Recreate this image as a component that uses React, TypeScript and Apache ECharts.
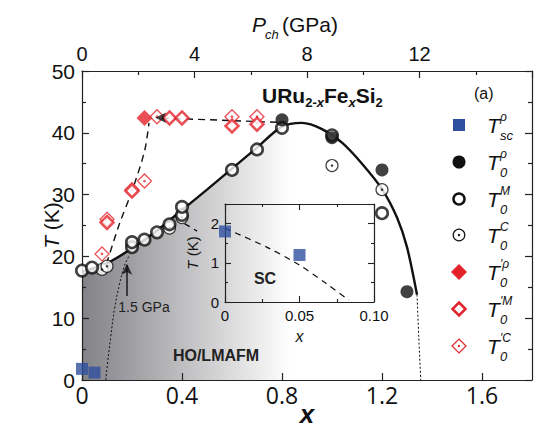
import React, { useEffect, useRef } from "react";
import * as echarts from "echarts";

// ---- data ----
const scX = [0, 0.05];
const scT = [1.8, 1.2];

const t0RhoX = [0.8, 1.0, 1.2, 1.3];
const t0RhoT = [42.1, 39.2, 34.0, 14.3];

const t0MX = [0, 0.04, 0.2, 0.2, 0.25, 0.3, 0.35, 0.4, 0.4, 0.6, 0.7, 0.8, 1.0, 1.2];
const t0MT = [17.7, 18.2, 21.5, 22.3, 22.7, 23.9, 25.2, 26.7, 28.0, 34.0, 37.3, 40.8, 39.6, 27.0];

const t0CX = [0.08, 0.1, 0.35, 0.4, 1.0, 1.2];
const t0CT = [17.9, 18.4, 24.6, 26.3, 34.7, 30.8];

const t0pRhoX = [0.25];
const t0pRhoT = [42.4];

const t0pMX = [0.1, 0.2, 0.35, 0.4, 0.6, 0.7];
const t0pMT = [25.5, 30.6, 42.4, 42.4, 41.1, 41.4];

const t0pCX = [0.08, 0.1, 0.2, 0.25, 0.3, 0.6, 0.7];
const t0pCT = [20.4, 26.0, 30.8, 32.2, 42.6, 42.6, 42.6];

// solid T0 phase line
const curveX = [0, 0.1, 0.2, 0.3, 0.4, 0.5, 0.6, 0.7, 0.8, 0.88, 0.96, 1.04, 1.12, 1.2, 1.26, 1.3, 1.34];
const curveT = [17.5, 18.9, 21.3, 24.2, 27.5, 30.8, 34.2, 37.6, 41.0, 41.6, 40.6, 38.4, 35.0, 30.9, 26.3, 21.5, 13.8];
// shaded HO/LMAFM area (left part of curve)
const areaCount = 10;

// dashed T0' line (ramp)
const rampX = [0.098, 0.15, 0.2, 0.25, 0.268];
const rampT = [18.8, 25.3, 30.6, 37.0, 41.6];
// dashed T0' plateau ending in an arrow head
const plateauX = [0.78, 0.3];
const plateauT = [41.7, 42.42];
const plateauHeadX = [0.293];
const plateauHeadT = [42.43];

// dotted boundaries
const dotLeftX = [0.095, 0.103, 0.115, 0.13, 0.15, 0.17, 0.19];
const dotLeftT = [0, 3, 7, 11.5, 15.5, 18.5, 20.2];
const dotRightX = [1.34, 1.347, 1.355];
const dotRightT = [13.8, 7, 0];

// short dashed segment near inset
const shortDashX = [0.41, 0.46];
const shortDashT = [25.3, 24.1];

// 1.5 GPa arrow
const gpaArrowX = [0.18, 0.18];
const gpaArrowT = [13.6, 18.6];
const gpaHeadX = [0.18];
const gpaHeadT = [18.8];

// inset SC line
const scLineX = [0, 0.028, 0.05, 0.068, 0.083];
const scLineT = [1.88, 1.4, 0.94, 0.47, 0.05];

const zip = (xs: number[], ys: number[]) => xs.map((x, i) => [x, ys[i]]);

const BLUE = "#2f4f9f";
const RED = "#e3232b";
const BLACK = "#111";
const AX = "#222";

const axisCommon = (extra: any = {}) => ({
  type: "value",
  axisLine: { show: true, onZero: false, lineStyle: { color: AX, width: 1.2 } },
  axisTick: { show: true, inside: true, length: 7, lineStyle: { color: AX, width: 1.2 } },
  splitLine: { show: false },
  ...extra,
});

export default function App() {
  const ref = useRef<HTMLDivElement>(null);
  useEffect(() => {
    if (!ref.current) return;
    const chart = echarts.init(ref.current, null, { renderer: "svg" });

    const openCircle = (w: number) => ({ color: "#fff", borderColor: BLACK, borderWidth: w });
    const openDiamond = (w: number) => ({ color: "#fff", borderColor: RED, borderWidth: w });

    const legendY = [125, 162, 199, 235, 272, 309, 346];
    const legendMX = 459;
    const legendSup = ["\u03c1", "\u03c1", "M", "C", "'\u03c1", "'M", "'C"];
    const legendSub = ["sc", "0", "0", "0", "0", "0", "0"];
    const diamondPts = (cx: number, cy: number, r: number) => [
      [cx, cy - r], [cx + r, cy], [cx, cy + r], [cx - r, cy],
    ];
    const markers: any[] = [
      { type: "rect", shape: { x: legendMX - 6, y: legendY[0] - 6, width: 12, height: 12 }, style: { fill: BLUE } },
      { type: "circle", shape: { cx: legendMX, cy: legendY[1], r: 6.5 }, style: { fill: BLACK } },
      { type: "circle", shape: { cx: legendMX, cy: legendY[2], r: 5.5 }, style: { fill: "#fff", stroke: BLACK, lineWidth: 2.5 } },
      { type: "circle", shape: { cx: legendMX, cy: legendY[3], r: 5.8 }, style: { fill: "#fff", stroke: BLACK, lineWidth: 1.2 } },
      { type: "circle", shape: { cx: legendMX, cy: legendY[3], r: 1.2 }, style: { fill: BLACK } },
      { type: "polygon", shape: { points: diamondPts(legendMX, legendY[4], 8) }, style: { fill: RED } },
      { type: "polygon", shape: { points: diamondPts(legendMX, legendY[5], 6.5) }, style: { fill: "#fff", stroke: RED, lineWidth: 2.5 } },
      { type: "polygon", shape: { points: diamondPts(legendMX, legendY[6], 7) }, style: { fill: "#fff", stroke: RED, lineWidth: 1.2 } },
      { type: "circle", shape: { cx: legendMX, cy: legendY[6], r: 1.2 }, style: { fill: RED } },
    ];
    const legendTexts: any[] = [];
    legendY.forEach((y, i) => {
      legendTexts.push({
        type: "text", x: 487, y,
        style: { text: "T", font: "italic 21px 'Liberation Sans'", fill: BLACK, verticalAlign: "middle", align: "left" },
      });
      legendTexts.push({
        type: "text", x: 500, y: y - 8,
        style: { text: legendSup[i], font: "italic 12px 'Liberation Sans'", fill: BLACK, verticalAlign: "middle", align: "left" },
      });
      legendTexts.push({
        type: "text", x: 500, y: y + 10,
        style: { text: legendSub[i], font: "italic 13px 'Liberation Sans'", fill: BLACK, verticalAlign: "middle", align: "left" },
      });
    });

    const option: any = {
      animation: false,
      backgroundColor: "#fff",
      grid: [
        { left: 82, top: 71, right: 3, bottom: 49, containLabel: false, outerBoundsMode: "none" },
        { left: 225, top: 204, width: 149, height: 98, containLabel: false, outerBoundsMode: "none" },
      ],
      xAxis: [
        axisCommon({
          gridIndex: 0, position: "bottom", min: 0, max: 1.8, interval: 0.4,
          axisLabel: { showMaxLabel: false, fontFamily: "Open Sans", fontSize: 23, color: BLACK, margin: 3 },
          name: "x", nameLocation: "middle", nameGap: 21, nameMoveOverlap: false,
          nameTextStyle: { fontFamily: "Liberation Sans", fontStyle: "italic", fontWeight: "bold", fontSize: 26, lineHeight: 26, color: BLACK },
        }),
        axisCommon({
          gridIndex: 0, position: "top", min: 0, max: 16, interval: 4,
          minorTick: { show: true, splitNumber: 2, length: 4, lineStyle: { color: AX, width: 1.2 } },
          axisLabel: { showMaxLabel: false, fontFamily: "Liberation Sans", fontSize: 20, color: BLACK, margin: 7 },
        }),
        axisCommon({
          gridIndex: 1, position: "bottom", min: 0, max: 0.1, interval: 0.05,
          axisTick: { show: true, inside: true, length: 6, lineStyle: { color: AX, width: 1.1 } },
          minorTick: { show: true, splitNumber: 2, length: 3, lineStyle: { color: AX, width: 1.1 } },
          axisLabel: {
            fontFamily: "Liberation Sans", fontSize: 15, color: BLACK, margin: 6,
            formatter: (v: number) => (v === 0 ? "0" : v.toFixed(2)),
          },
          name: "x", nameLocation: "middle", nameGap: 26, nameMoveOverlap: false,
          nameTextStyle: { fontFamily: "Liberation Sans", fontStyle: "italic", fontSize: 16, color: BLACK },
        }),
        axisCommon({
          gridIndex: 1, position: "top", min: 0, max: 0.1, interval: 0.05,
          axisTick: { show: true, inside: true, length: 6, lineStyle: { color: AX, width: 1.1 } },
          minorTick: { show: true, splitNumber: 2, length: 3, lineStyle: { color: AX, width: 1.1 } },
          axisLabel: { show: false },
        }),
      ],
      yAxis: [
        axisCommon({
          gridIndex: 0, position: "left", min: 0, max: 50, interval: 10,
          minorTick: { show: true, splitNumber: 2, length: 4, lineStyle: { color: AX, width: 1.2 } },
          axisLabel: { fontFamily: "Liberation Sans", fontSize: 21, color: BLACK, margin: 7 },
          name: "{i|T} (K)", nameLocation: "middle", nameGap: 20, nameRotate: 90, nameMoveOverlap: false,
          nameTextStyle: {
            fontFamily: "Liberation Sans", fontSize: 21, color: BLACK,
            rich: { i: { fontFamily: "Liberation Sans", fontStyle: "italic", fontSize: 21, color: BLACK } },
          },
        }),
        axisCommon({
          gridIndex: 0, position: "right", min: 0, max: 50, interval: 10,
          minorTick: { show: true, splitNumber: 2, length: 4, lineStyle: { color: AX, width: 1.2 } },
          axisLabel: { show: false },
        }),
        axisCommon({
          gridIndex: 1, position: "left", min: 0, max: 2.5, interval: 1,
          axisTick: { show: true, inside: true, length: 6, lineStyle: { color: AX, width: 1.1 } },
          minorTick: { show: true, splitNumber: 2, length: 3, lineStyle: { color: AX, width: 1.1 } },
          axisLabel: { showMaxLabel: false, fontFamily: "Liberation Sans", fontSize: 15, color: BLACK, margin: 6 },
          name: "{i|T} (K)", nameLocation: "middle", nameGap: 25, nameRotate: 90, nameMoveOverlap: false,
          nameTextStyle: {
            fontFamily: "Liberation Sans", fontSize: 15, color: BLACK,
            rich: { i: { fontFamily: "Liberation Sans", fontStyle: "italic", fontSize: 15, color: BLACK } },
          },
        }),
        axisCommon({
          gridIndex: 1, position: "right", min: 0, max: 2.5, interval: 1,
          axisTick: { show: true, inside: true, length: 6, lineStyle: { color: AX, width: 1.1 } },
          minorTick: { show: true, splitNumber: 2, length: 3, lineStyle: { color: AX, width: 1.1 } },
          axisLabel: { show: false },
        }),
      ],
      series: [
        {
          type: "line", xAxisIndex: 0, yAxisIndex: 0, z: 0,
          data: zip(curveX.slice(0, areaCount), curveT.slice(0, areaCount)),
          smooth: 0.3, symbol: "none", lineStyle: { width: 0 },
          areaStyle: {
            opacity: 1,
            color: new echarts.graphic.LinearGradient(0, 0, 1, 0, [
              { offset: 0, color: "#828287" },
              { offset: 0.5, color: "#c4c4c6" },
              { offset: 0.95, color: "#ffffff" },
            ]),
          },
          silent: true,
        },
        {
          type: "line", xAxisIndex: 0, yAxisIndex: 0, z: 2,
          data: zip(curveX, curveT), smooth: 0.3, symbol: "none",
          lineStyle: { color: BLACK, width: 2.4 },
        },
        {
          type: "line", xAxisIndex: 0, yAxisIndex: 0, z: 2,
          data: zip(dotLeftX, dotLeftT), smooth: 0.4, symbol: "none",
          lineStyle: { color: BLACK, width: 1, type: [2, 2] },
        },
        {
          type: "line", xAxisIndex: 0, yAxisIndex: 0, z: 2,
          data: zip(dotRightX, dotRightT), smooth: 0.3, symbol: "none",
          lineStyle: { color: BLACK, width: 1, type: [2, 2] },
        },
        {
          type: "line", xAxisIndex: 0, yAxisIndex: 0, z: 2,
          data: zip(shortDashX, shortDashT), symbol: "none",
          lineStyle: { color: BLACK, width: 1.4, type: [6, 5] },
        },
        {
          type: "line", xAxisIndex: 0, yAxisIndex: 0, z: 2,
          data: zip(rampX, rampT), smooth: 0.3, symbol: "none",
          lineStyle: { color: BLACK, width: 1.4, type: [7, 5] },
        },
        {
          type: "line", xAxisIndex: 0, yAxisIndex: 0, z: 2,
          data: zip(plateauX, plateauT), symbol: "none",
          lineStyle: { color: BLACK, width: 1.4, type: [7, 5] },
        },
        {
          type: "scatter", xAxisIndex: 0, yAxisIndex: 0, z: 6,
          data: zip(plateauHeadX, plateauHeadT), symbol: "arrow", symbolSize: [8, 11], symbolRotate: 90,
          itemStyle: { color: BLACK }, silent: true,
        },
        {
          type: "line", xAxisIndex: 0, yAxisIndex: 0, z: 2,
          data: zip(gpaArrowX, gpaArrowT), symbol: "none",
          lineStyle: { color: BLACK, width: 1.4 },
        },
        {
          type: "scatter", xAxisIndex: 0, yAxisIndex: 0, z: 3,
          data: zip(gpaHeadX, gpaHeadT), symbol: "arrow", symbolSize: [8, 11],
          itemStyle: { color: BLACK }, silent: true,
        },
        // scatter series, main panel
        {
          type: "scatter", xAxisIndex: 0, yAxisIndex: 0, z: 3,
          data: zip(scX, scT), symbol: "rect", symbolSize: 12, itemStyle: { color: BLUE },
        },
        {
          type: "scatter", xAxisIndex: 0, yAxisIndex: 0, z: 4,
          data: zip(t0CX, t0CT), symbol: "circle", symbolSize: 12, itemStyle: openCircle(1.2),
        },
        {
          type: "scatter", xAxisIndex: 0, yAxisIndex: 0, z: 4,
          data: zip(t0CX, t0CT), symbol: "circle", symbolSize: 2.6, itemStyle: { color: BLACK },
        },
        {
          type: "scatter", xAxisIndex: 0, yAxisIndex: 0, z: 4,
          data: zip(t0MX, t0MT), symbol: "circle", symbolSize: 11.5, itemStyle: openCircle(2.6),
        },
        {
          type: "scatter", xAxisIndex: 0, yAxisIndex: 0, z: 4,
          data: zip(t0RhoX, t0RhoT), symbol: "circle", symbolSize: 13, itemStyle: { color: BLACK },
        },
        {
          type: "scatter", xAxisIndex: 0, yAxisIndex: 0, z: 4,
          data: zip(t0pCX, t0pCT), symbol: "diamond", symbolSize: 14, itemStyle: openDiamond(1.3),
        },
        {
          type: "scatter", xAxisIndex: 0, yAxisIndex: 0, z: 4,
          data: zip(t0pCX, t0pCT), symbol: "circle", symbolSize: 2.6, itemStyle: { color: RED },
        },
        {
          type: "scatter", xAxisIndex: 0, yAxisIndex: 0, z: 4,
          data: zip(t0pMX, t0pMT), symbol: "diamond", symbolSize: 13, itemStyle: openDiamond(2.5),
        },
        {
          type: "scatter", xAxisIndex: 0, yAxisIndex: 0, z: 5,
          data: zip(t0pRhoX, t0pRhoT), symbol: "diamond", symbolSize: 16, itemStyle: { color: RED },
        },
        // inset
        {
          type: "line", xAxisIndex: 2, yAxisIndex: 2, z: 3,
          data: zip(scLineX, scLineT), smooth: 0.3, symbol: "none",
          lineStyle: { color: BLACK, width: 1.2, type: [6, 5] },
        },
        {
          type: "scatter", xAxisIndex: 2, yAxisIndex: 2, z: 4,
          data: zip(scX, scT), symbol: "rect", symbolSize: 12, itemStyle: { color: BLUE },
        },
      ],
      graphic: {
        elements: [
          {
            type: "text", x: 262, y: 95, z: 100,
            style: {
              text: "{b|URu}{s|2-}{si|x}{b|Fe}{si|x}{b|Si}{s|2}",
              verticalAlign: "middle",
              rich: {
                b: { font: "bold 21px 'Liberation Sans'", fill: BLACK, lineHeight: 30, verticalAlign: "middle" },
                s: { font: "bold 13px 'Liberation Sans'", fill: BLACK, lineHeight: 30, padding: [14, 0, 0, 0] },
                si: { font: "italic bold 13px 'Liberation Sans'", fill: BLACK, lineHeight: 30, padding: [14, 0, 0, 0] },
              },
            },
          },
          { type: "text", x: 474, y: 93, z: 100, style: { text: "(a)", font: "16px 'Liberation Sans'", fill: BLACK, verticalAlign: "middle" } },
          { type: "text", x: 252, y: 24, z: 100, style: { text: "P", font: "italic 21px 'Liberation Sans'", fill: BLACK, verticalAlign: "middle" } },
          { type: "text", x: 265, y: 34, z: 100, style: { text: "ch", font: "italic 13px 'Liberation Sans'", fill: BLACK, verticalAlign: "middle" } },
          { type: "text", x: 282, y: 24, z: 100, style: { text: "(GPa)", font: "21px 'Liberation Sans'", fill: BLACK, verticalAlign: "middle" } },
          { type: "text", x: 144, y: 307, z: 100, style: { text: "1.5 GPa", font: "14px 'Liberation Sans'", fill: "#222", align: "center", verticalAlign: "middle" } },
          { type: "text", x: 216, y: 355, z: 100, style: { text: "HO/LMAFM", font: "bold 16px 'Liberation Sans'", fill: "#222", align: "center", verticalAlign: "middle" } },
          { type: "text", x: 265, y: 278, z: 100, style: { text: "SC", font: "bold 16px 'Liberation Sans'", fill: "#222", align: "center", verticalAlign: "middle" } },
          ...markers.map((m) => ({ ...m, z: 100 })),
          ...legendTexts.map((m) => ({ ...m, z: 100 })),
        ],
      },
    };
    chart.setOption(option);
    return () => chart.dispose();
  }, []);
  return (
    <div
      ref={ref}
      style={{ position: "fixed", left: 0, top: 0, width: 535, height: 429 }}
    />
  );
}
